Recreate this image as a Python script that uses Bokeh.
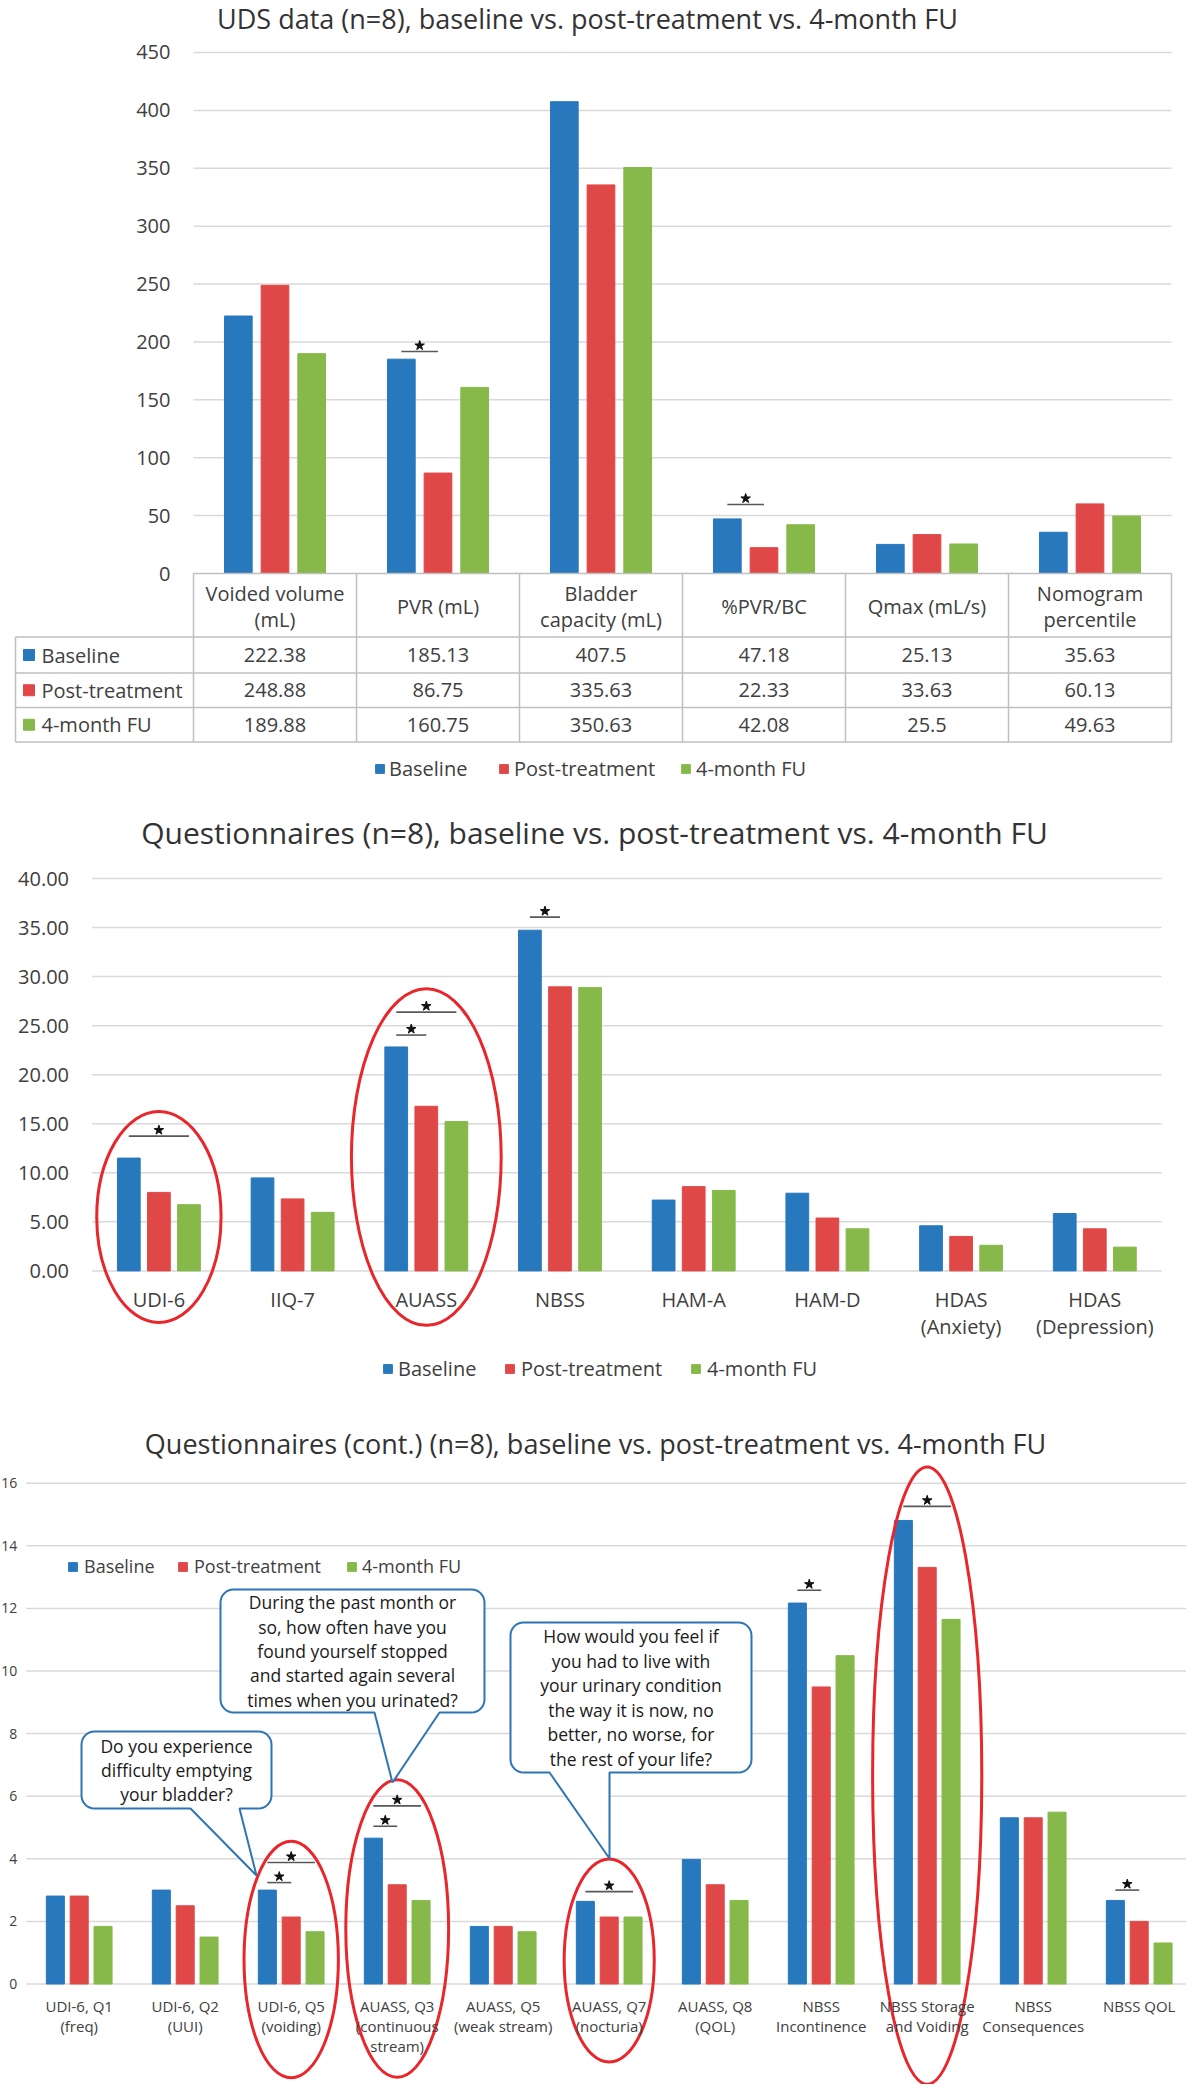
import math
from bokeh.plotting import figure
from bokeh.layouts import column
from bokeh.models import Range1d, FixedTicker, Legend, LegendItem, NumeralTickFormatter
from bokeh.core.properties import value
from bokeh.embed import file_html
from bokeh.resources import INLINE

FONT = "Open Sans"
TEXT = "#404040"
TITLE_COLOR = "#333333"
GRID = "#D9D9D9"
TABLE_LINE = "#BFBFBF"
RING = "#E8262B"
CALLOUT = "#2E75B6"
SIG_LINE = "#595959"

series_names = ["Baseline", "Post-treatment", "4-month FU"]
series_colors = ["#2878BE", "#E04848", "#86B94A"]

# ---------------- chart 1: UDS data ----------------
uds_title = "UDS data (n=8), baseline vs. post-treatment vs. 4-month FU"
uds_categories = ["Voided volume\n(mL)", "PVR (mL)", "Bladder\ncapacity (mL)",
                  "%PVR/BC", "Qmax (mL/s)", "Nomogram\npercentile"]
uds_baseline = [222.38, 185.13, 407.5, 47.18, 25.13, 35.63]
uds_post = [248.88, 86.75, 335.63, 22.33, 33.63, 60.13]
uds_fu = [189.88, 160.75, 350.63, 42.08, 25.5, 49.63]
uds_ticks = [0, 50, 100, 150, 200, 250, 300, 350, 400, 450]
# (category, from series, to series, bar height)
uds_sig = [(1, 0, 1, 191.7), (3, 0, 1, 59.6)]

# ---------------- chart 2: Questionnaires ----------------
q_title = "Questionnaires (n=8), baseline vs. post-treatment vs. 4-month FU"
q_categories = ["UDI-6", "IIQ-7", "AUASS", "NBSS", "HAM-A", "HAM-D",
                "HDAS\n(Anxiety)", "HDAS\n(Depression)"]
q_baseline = [11.5, 9.48, 22.83, 34.73, 7.22, 7.92, 4.6, 5.85]
q_post = [8.0, 7.34, 16.78, 28.96, 8.59, 5.39, 3.51, 4.29]
q_fu = [6.75, 5.97, 15.22, 28.88, 8.2, 4.29, 2.61, 2.42]
q_ticks = [0, 5, 10, 15, 20, 25, 30, 35, 40]
q_sig = [(0, 0, 2, 13.74), (2, 0, 1, 24.04), (2, 0, 2, 26.38), (3, 0, 1, 36.06)]
# (category, centre value, width in categories, height in values)
q_rings = [(0, 5.5, 0.93, 21.5), (2, 11.6, 1.12, 34.3)]

# ---------------- chart 3: Questionnaires (cont.) ----------------
qc_title = "Questionnaires (cont.) (n=8), baseline vs. post-treatment vs. 4-month FU"
qc_categories = ["UDI-6, Q1\n(freq)", "UDI-6, Q2\n(UUI)", "UDI-6, Q5\n(voiding)",
                 "AUASS, Q3\n(continuous\nstream)", "AUASS, Q5\n(weak stream)",
                 "AUASS, Q7\n(nocturia)", "AUASS, Q8\n(QOL)", "NBSS\nIncontinence",
                 "NBSS Storage\nand Voiding", "NBSS\nConsequences", "NBSS QOL"]
qc_baseline = [2.81, 3.0, 3.0, 4.66, 1.84, 2.64, 3.98, 12.17, 14.81, 5.31, 2.67]
qc_post = [2.81, 2.5, 2.14, 3.17, 1.84, 2.14, 3.17, 9.49, 13.31, 5.31, 2.0]
qc_fu = [1.84, 1.5, 1.67, 2.67, 1.67, 2.14, 2.67, 10.49, 11.65, 5.49, 1.31]
qc_ticks = [0, 2, 4, 6, 8, 10, 12, 14, 16]
qc_sig = [(2, 0, 1, 3.24), (2, 0, 2, 3.88), (3, 0, 1, 5.04), (3, 0, 2, 5.69),
          (5, 0, 2, 2.95), (7, 0, 1, 12.58), (8, 0, 2, 15.26), (10, 0, 1, 3.0)]
qc_rings = [(2, 0.78, 0.89, 7.56), (3, 1.77, 0.97, 9.51), (5, 0.75, 0.85, 6.49),
            (8, 6.66, 1.03, 19.74)]
qc_callouts = [
    ("Do you experience\ndifficulty emptying\nyour bladder?",
     (89, 1739, 279, 1816), (198, 247), (264, 1883)),
    ("During the past month or\nso, how often have you\nfound yourself stopped\n"
     "and started again several\ntimes when you urinated?",
     (228, 1597, 492, 1720), (382, 447), (400, 1790)),
    ("How would you feel if\nyou had to live with\nyour urinary condition\n"
     "the way it is now, no\nbetter, no worse, for\nthe rest of your life?",
     (518, 1630, 759, 1780), (557, 617), (617, 1866)),
]

BAR_OFFSETS = [-0.225, 0.0, 0.225]
BAR_W = 0.17
FIG_W = 1186
MARGIN = 8
PAGE_L, PAGE_R = MARGIN, MARGIN + FIG_W


class Frame:
    """Page-pixel layout of one figure (frame = whole canvas) and its data scales."""
    def __init__(self, top, height, x0_px, x_ppu, y0_px, y_ppu):
        self.top, self.height = top, height
        self.x0_px, self.x_ppu, self.y0_px, self.y_ppu = x0_px, x_ppu, y0_px, y_ppu

    def X(self, px):
        return (px - self.x0_px) / self.x_ppu

    def Y(self, py):
        return (self.y0_px - py) / self.y_ppu

    def dy(self, pix):
        return pix / self.y_ppu


def make_fig(fr):
    p = figure(width=FIG_W, height=fr.height,
               x_range=Range1d(fr.X(PAGE_L), fr.X(PAGE_R)),
               y_range=Range1d(fr.Y(fr.top + fr.height), fr.Y(fr.top)),
               min_border=0, min_border_left=0, min_border_right=0,
               min_border_top=0, min_border_bottom=0,
               output_backend="svg", toolbar_location=None)
    p.outline_line_color = None
    p.xgrid.visible = False
    p.ygrid.visible = False
    return p


def style_axis(ax, size, color=TEXT, standoff=8):
    ax.axis_line_color = None
    ax.major_tick_line_color = None
    ax.minor_tick_line_color = None
    ax.major_tick_out = 0
    ax.major_tick_in = 0
    ax.major_label_standoff = standoff
    ax.major_label_text_font = FONT
    ax.major_label_text_font_size = size
    ax.major_label_text_color = color


def setup_y(p, ticks, x_at, size, standoff, fmt=None):
    p.yaxis.fixed_location = x_at
    p.yaxis.ticker = FixedTicker(ticks=ticks)
    if fmt:
        p.yaxis.formatter = NumeralTickFormatter(format=fmt)
    style_axis(p.yaxis, size, standoff=standoff)


def setup_x(p, labels, size, standoff):
    ticks = list(range(len(labels)))
    p.xaxis.fixed_location = 0
    p.xaxis.ticker = FixedTicker(ticks=ticks)
    p.xaxis.major_label_overrides = {i: labels[i] for i in ticks}
    style_axis(p.xaxis, size, standoff=standoff)
    p.xaxis.major_label_text_line_height = 1.0


def draw_grid(p, ticks, x0, x1, skip_zero=False):
    t = [v for v in ticks if not (skip_zero and v == 0)]
    p.segment(x0=[x0] * len(t), y0=t, x1=[x1] * len(t), y1=t,
              line_color=GRID, line_width=1.5)


def draw_bars(p, centers, series):
    rends = []
    for s, vals in enumerate(series):
        r = p.vbar(x=[c + BAR_OFFSETS[s] for c in centers], top=vals, bottom=0,
                   width=BAR_W, fill_color=series_colors[s],
                   line_color=series_colors[s], line_width=1)
        rends.append(r)
    return rends


def draw_sig(p, fr, centers, sigs):
    x0s, x1s, ys, mids, sy = [], [], [], [], []
    for c, s0, s1, yv in sigs:
        a = centers[c] + BAR_OFFSETS[s0]
        b = centers[c] + BAR_OFFSETS[s1]
        x0s.append(a); x1s.append(b); ys.append(yv)
        mids.append((a + b) / 2); sy.append(yv + fr.dy(6))
    p.segment(x0=x0s, y0=ys, x1=x1s, y1=ys, line_color=SIG_LINE, line_width=1.6)
    p.scatter(x=mids, y=sy, marker="star", size=10, fill_color="#111111",
              line_color="#111111")


def draw_rings(p, rings):
    p.ellipse(x=[r[0] for r in rings], y=[r[1] for r in rings],
              width=[r[2] for r in rings], height=[r[3] for r in rings],
              fill_alpha=0, line_color=RING, line_width=3)


def draw_title(p, fr, text, cx, cy, size):
    p.text(x=[fr.X(cx)], y=[fr.Y(cy)], text=[text], text_align="center",
           text_baseline="middle", text_font=value(FONT), text_font_size=size,
           text_color=TITLE_COLOR)


def add_legend(p, fr, rends, square_lefts, text_lefts, bottom, size, label_h):
    """One single-item legend per series, so each entry sits where the reference has it."""
    for name, r, sq, tx in zip(series_names, rends, square_lefts, text_lefts):
        lg = Legend(items=[LegendItem(label=name, renderers=[r])],
                    orientation="horizontal", location=(sq - PAGE_L, bottom),
                    label_text_font=FONT, label_text_font_size=size,
                    label_text_color=TEXT, glyph_width=11, glyph_height=11,
                    label_standoff=tx - sq - 11, spacing=0, padding=0, margin=0,
                    label_height=label_h, border_line_color=None,
                    background_fill_alpha=0)
        p.add_layout(lg)


# ================= chart 1 =================
f1 = Frame(top=8, height=800, x0_px=201, x_ppu=163, y0_px=581, y_ppu=1.1578)
p1 = make_fig(f1)
p1.xaxis.visible = False
setup_y(p1, uds_ticks, 0, "20px", 23)

ncat1 = len(uds_categories)
c1 = [i + 0.5 for i in range(ncat1)]
draw_grid(p1, uds_ticks, 0, ncat1, skip_zero=True)
r1 = draw_bars(p1, c1, [uds_baseline, uds_post, uds_fu])
draw_sig(p1, f1, c1, uds_sig)

# data table under the chart
row_lines = [644.5, 680.5, 715, 749.5]
row_mid = [(row_lines[i] + row_lines[i + 1]) / 2 for i in range(3)]
tl = f1.X(23)
hx0 = [0] + [tl] * len(row_lines)
hy = [0] + [f1.Y(v) for v in row_lines]
hx1 = [ncat1] * len(hy)
p1.segment(x0=hx0, y0=hy, x1=hx1, y1=hy, line_color=TABLE_LINE, line_width=1.5)
vx = list(range(ncat1 + 1)) + [tl]
vy0 = [0] * (ncat1 + 1) + [f1.Y(row_lines[0])]
vy1 = [f1.Y(row_lines[-1])] * len(vx)
p1.segment(x0=vx, y0=vy0, x1=vx, y1=vy1, line_color=TABLE_LINE, line_width=1.5)

p1.text(x=c1, y=[f1.Y(614)] * ncat1, text=uds_categories, text_align="center",
        text_baseline="middle", text_font=value(FONT), text_font_size="20px",
        text_color=TEXT, text_line_height=0.98)
p1.scatter(x=[f1.X(36.5)] * 3, y=[f1.Y(v) for v in row_mid], marker="square",
           size=11, fill_color=series_colors, line_color=series_colors)
p1.text(x=[f1.X(49)] * 3, y=[f1.Y(v) for v in row_mid], text=series_names,
        text_align="left", text_baseline="middle", text_font=value(FONT),
        text_font_size="20px", text_color=TEXT)
for s, vals in enumerate([uds_baseline, uds_post, uds_fu]):
    p1.text(x=c1, y=[f1.Y(row_mid[s])] * ncat1, text=[f"{v:g}" for v in vals],
            text_align="center", text_baseline="middle", text_font=value(FONT),
            text_font_size="20px", text_color=TEXT)
draw_title(p1, f1, uds_title, 595, 26, "27px")
add_legend(p1, f1, r1, [382, 506, 688], [397, 522, 704], 18, "20px", 20)

# ================= chart 2 =================
f2 = Frame(top=808, height=600, x0_px=166.4, x_ppu=133.7, y0_px=1278.4, y_ppu=9.81)
p2 = make_fig(f2)
ncat2 = len(q_categories)
c2 = list(range(ncat2))
setup_y(p2, q_ticks, -0.5, "20px", 23, fmt="0.00")
setup_x(p2, q_categories, "20px", 15)
draw_grid(p2, q_ticks, -0.5, ncat2 - 0.5)
r2 = draw_bars(p2, c2, [q_baseline, q_post, q_fu])
draw_sig(p2, f2, c2, q_sig)
draw_rings(p2, q_rings)
draw_title(p2, f2, q_title, 602, 840, "30px")
add_legend(p2, f2, r2, [390, 512, 698], [406, 529, 715], 18, "20px", 20)

# ================= chart 3 =================
f3 = Frame(top=1408, height=684, x0_px=86.7, x_ppu=106, y0_px=1991.5, y_ppu=31.3)
p3 = make_fig(f3)
ncat3 = len(qc_categories)
c3 = list(range(ncat3))
setup_y(p3, qc_ticks, -0.5, "14px", 9)
setup_x(p3, qc_categories, "15px", 12)
draw_grid(p3, qc_ticks, -0.5, f3.X(PAGE_R))
r3 = draw_bars(p3, c3, [qc_baseline, qc_post, qc_fu])
draw_sig(p3, f3, c3, qc_sig)
draw_rings(p3, qc_rings)


def callout_points(box, base, tip, r=13, n=8):
    l, t, rr, b = box
    pts = []

    def arc(cx, cy, a0, a1):
        for k in range(n + 1):
            a = math.radians(a0 + (a1 - a0) * k / n)
            pts.append((cx + r * math.cos(a), cy - r * math.sin(a)))
    arc(l + r, t + r, 180, 90)
    arc(rr - r, t + r, 90, 0)
    arc(rr - r, b - r, 0, -90)
    pts.append((base[1], b))
    pts.append(tip)
    pts.append((base[0], b))
    arc(l + r, b - r, -90, -180)
    return pts


for text, box, base, tip in qc_callouts:
    pts = callout_points(box, base, tip)
    p3.patch(x=[f3.X(a) for a, _ in pts], y=[f3.Y(b) for _, b in pts],
             fill_color="white", line_color=CALLOUT, line_width=2)
    p3.text(x=[f3.X((box[0] + box[2]) / 2)], y=[f3.Y((box[1] + box[3]) / 2)],
            text=[text], text_align="center", text_baseline="middle",
            text_font=value(FONT), text_font_size="17.5px", text_color="#1A1A1A",
            text_line_height=1.02)

draw_title(p3, f3, qc_title, 603, 1451, "27px")
add_legend(p3, f3, r3, [75, 185, 354], [92, 202, 370], 2092 - 1586, "18px", 18)

layout = column(p1, p2, p3, spacing=0)
open("out.html", "w").write(file_html(layout, INLINE))
